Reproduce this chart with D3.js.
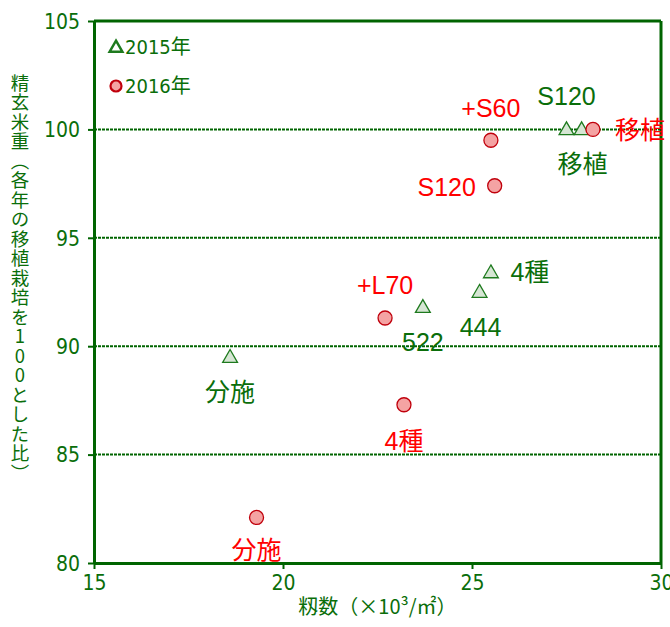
<!DOCTYPE html>
<html>
<head>
<meta charset="utf-8">
<script src="https://cdn.jsdelivr.net/npm/d3@7"></script>
<style>
  body { margin: 0; background: #fff; }
  svg { display: block; }
</style>
</head>
<body>
<div id="chart"></div>
<script>
// 2015年 (triangles)
var labels2015 = ["分施", "522", "444", "4種", "S120", "移植"];
var x2015 = [18.6, 23.7, 25.2, 25.5, 27.5, 27.9];
var y2015 = [89.5, 91.8, 92.5, 93.4, 100, 100];

// 2016年 (circles)
var labels2016 = ["分施", "4種", "+L70", "S120", "+S60", "移植"];
var x2016 = [19.3, 23.2, 22.7, 25.6, 25.5, 28.2];
var y2016 = [82.1, 87.3, 91.3, 97.4, 99.5, 100];

var xTicks = [15, 20, 25, 30];
var yTicks = [80, 85, 90, 95, 100, 105];
var gridVals = [85, 90, 95, 100];

// label offsets in px (dx, dy) from each point
var off2015 = [[0, 35], [0, 35], [1, 35], [39, 0], [0, -33], [1, 35]];
var off2016 = [[0, 33], [0, 36], [0, -33], [-48, 1], [0, -32], [47, 1]];

var WIDTH = 670, HEIGHT = 627;
var GREEN = "#0a6e0a", LINE = "#006400", RED = "#ff0000";
var tickFont = "'Liberation Sans Narrow', 'DejaVu Sans Condensed', 'Noto Sans CJK JP', sans-serif";
var labelFont = "'Liberation Sans', 'Noto Sans CJK JP', sans-serif";
var cjkFont = "'Noto Sans CJK JP', sans-serif";

var svg = d3.select("#chart").append("svg")
    .attr("width", WIDTH)
    .attr("height", HEIGHT);

var xScale = d3.scaleLinear().domain([15, 30]).range([94, 661]);
var yScale = d3.scaleLinear().domain([80, 105]).range([563, 21]);

// grid
svg.append("g").selectAll("line")
    .data(gridVals)
    .enter().append("line")
    .attr("x1", xScale(15)).attr("x2", xScale(30))
    .attr("y1", function(d) { return yScale(d); })
    .attr("y2", function(d) { return yScale(d); })
    .style("stroke", LINE)
    .style("stroke-width", 2)
    .style("stroke-dasharray", "3,1");

// frame top/right
svg.append("line")
    .attr("x1", xScale(15)).attr("x2", xScale(30))
    .attr("y1", yScale(105)).attr("y2", yScale(105))
    .style("stroke", LINE).style("stroke-width", 3);
svg.append("line")
    .attr("x1", xScale(30)).attr("x2", xScale(30))
    .attr("y1", yScale(105)).attr("y2", yScale(80))
    .style("stroke", LINE).style("stroke-width", 3);

var xAxis = d3.axisBottom(xScale).tickValues(xTicks).tickSize(6).tickSizeOuter(0).tickPadding(6);
var yAxis = d3.axisLeft(yScale).tickValues(yTicks).tickSize(6).tickSizeOuter(0).tickPadding(8);

var gx = svg.append("g")
    .attr("transform", "translate(0," + yScale(80) + ")")
    .call(xAxis);
var gy = svg.append("g")
    .attr("transform", "translate(" + xScale(15) + ",0)")
    .call(yAxis);

[gx, gy].forEach(function(g) {
    g.select(".domain").style("stroke", LINE).style("stroke-width", 3);
    g.selectAll(".tick line").style("stroke", LINE).style("stroke-width", 2);
    g.selectAll(".tick text")
        .style("fill", GREEN)
        .style("font-family", tickFont)
        .style("font-size", "21px");
});
gy.selectAll(".tick text").attr("dy", "0.35em");

// axis titles
svg.append("text")
    .attr("x", (xScale(15) + xScale(30)) / 2 + 0)
    .attr("y", 614)
    .attr("text-anchor", "middle")
    .style("fill", GREEN)
    .style("font-family", cjkFont)
    .style("font-size", "20px")
    .text("籾数（×10³/㎡）");

svg.append("text")
    .attr("x", 20)
    .attr("y", 278)
    .attr("text-anchor", "middle")
    .style("writing-mode", "vertical-rl")
    .style("text-orientation", "upright")
    .style("fill", GREEN)
    .style("font-family", cjkFont)
    .style("font-size", "18.5px")
    .style("letter-spacing", "1px")
    .text("精玄米重（各年の移植栽培を100とした比）");

// symbols
var tri = d3.symbol().type(d3.symbolTriangle).size(95);

var d15 = labels2015.map(function(l, i) { return {label: l, x: x2015[i], y: y2015[i], off: off2015[i]}; });
var d16 = labels2016.map(function(l, i) { return {label: l, x: x2016[i], y: y2016[i], off: off2016[i]}; });

svg.append("g").selectAll("path")
    .data(d15)
    .enter().append("path")
    .attr("d", tri)
    .attr("transform", function(d) { return "translate(" + xScale(d.x) + "," + (yScale(d.y) + 1) + ")"; })
    .style("fill", "#d6e6d4")
    .style("stroke", "#1e7a1e")
    .style("stroke-width", 1.3);

svg.append("g").selectAll("circle")
    .data(d16)
    .enter().append("circle")
    .attr("cx", function(d) { return xScale(d.x); })
    .attr("cy", function(d) { return yScale(d.y); })
    .attr("r", 7)
    .style("fill", "#f4a3a3")
    .style("stroke", "#c0000c")
    .style("stroke-width", 1.3);

// point labels
svg.append("g").selectAll("text")
    .data(d15)
    .enter().append("text")
    .attr("x", function(d) { return xScale(d.x) + d.off[0]; })
    .attr("y", function(d) { return yScale(d.y) + d.off[1]; })
    .attr("text-anchor", "middle")
    .attr("dominant-baseline", "central")
    .style("fill", GREEN)
    .style("font-family", labelFont)
    .style("font-size", "25px")
    .text(function(d) { return d.label; });

svg.append("g").selectAll("text")
    .data(d16)
    .enter().append("text")
    .attr("x", function(d) { return xScale(d.x) + d.off[0]; })
    .attr("y", function(d) { return yScale(d.y) + d.off[1]; })
    .attr("text-anchor", "middle")
    .attr("dominant-baseline", "central")
    .style("fill", RED)
    .style("font-family", labelFont)
    .style("font-size", "25px")
    .text(function(d) { return d.label; });

// legend
var legend = svg.append("g");
legend.append("path")
    .attr("d", d3.symbol().type(d3.symbolTriangle).size(70))
    .attr("transform", "translate(116,48)")
    .style("fill", "#ffffff")
    .style("stroke", "#1e7a1e")
    .style("stroke-width", 2.5);
legend.append("circle")
    .attr("cx", 116).attr("cy", 86).attr("r", 5.5)
    .style("fill", "#f4a3a3")
    .style("stroke", "#c0000c")
    .style("stroke-width", 2.2);
legend.selectAll("text")
    .data(["2015年", "2016年"])
    .enter().append("text")
    .attr("x", 125)
    .attr("y", function(d, i) { return 47 + i * 39; })
    .attr("dominant-baseline", "central")
    .style("fill", GREEN)
    .style("font-family", tickFont)
    .style("font-size", "20px")
    .text(function(d) { return d; });
</script>
</body>
</html>
